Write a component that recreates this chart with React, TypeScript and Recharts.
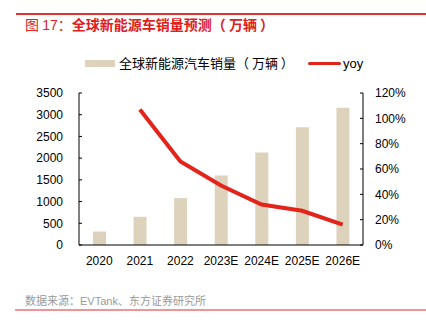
import { ComposedChart, Bar, Line, XAxis, YAxis } from "recharts"

const years = ["2020", "2021", "2022", "2023E", "2024E", "2025E", "2026E"]
const sales = [310, 650, 1080, 1600, 2130, 2710, 3160]
const yoy = [null, 107, 66, 47, 32, 27, 16]
const salesTicks = [0, 500, 1000, 1500, 2000, 2500, 3000, 3500]
const yoyTicks = [0, 20, 40, 60, 80, 100, 120]
const edgeTicks = [0, 1, 2, 3, 4, 5, 6, 7]

const data = years.map((year, i) => ({ year, sales: sales[i], yoy: yoy[i] }))

const BEIGE = "#DDD3BC"
const RED = "#E3241B"
const LATIN = "'Liberation Sans', Arial, sans-serif"
const CJK = "'Noto Sans CJK SC', sans-serif"

const axisTick = { fontSize: 12, fill: "#000", fontFamily: LATIN }
const axisLine = { stroke: "#000" }

function pct(v: number | string): string {
  return v + "%"
}

const cjkText = { whiteSpace: "pre", fontFamily: CJK, lineHeight: 1.4 } as const
const latin = { fontFamily: LATIN }

export default function App() {
  return (
    <div style={{ position: "relative", width: 426, height: 325, background: "#fff" }}>
      <style>{"body{margin:0}"}</style>
      <div style={{ position: "absolute", left: 16, right: 0, top: 13, height: 1.5, background: "#E5322D" }} />
      <div
        style={{
          ...cjkText,
          position: "absolute",
          left: 25,
          top: 15,
          fontSize: 14,
          fontWeight: "bold",
          color: "#E0201B",
        }}
      >
        <span style={{ fontWeight: "normal" }}>
          图 <span style={latin}>17</span>：
        </span>
        {"全球新能源车销量预测（ 万辆 ）"}
      </div>
      <div style={{ position: "absolute", left: 85, top: 60, width: 30, height: 7, background: BEIGE }} />
      <div style={{ ...cjkText, position: "absolute", left: 119, top: 54, fontSize: 13, color: "#000" }}>
        {"全球新能源汽车销量（ 万辆 ）"}
      </div>
      <div style={{ position: "absolute", left: 308, top: 62, width: 33, height: 3, background: RED, borderRadius: 2 }} />
      <div style={{ position: "absolute", left: 343, top: 56, fontSize: 13, color: "#000", fontFamily: LATIN }}>yoy</div>
      <div style={{ position: "absolute", left: 0, top: 0 }}>
        <ComposedChart width={426} height={325} data={data} margin={{ top: 93, right: 0, bottom: 0, left: 0 }}>
          <XAxis
            xAxisId="edge"
            type="number"
            domain={[0, 7]}
            ticks={edgeTicks}
            tick={false}
            axisLine={false}
            tickLine={axisLine}
            tickSize={4}
            height={0}
          />
          <XAxis
            xAxisId="cat"
            dataKey="year"
            tick={axisTick}
            axisLine={axisLine}
            tickLine={false}
            tickSize={0}
            tickMargin={11}
            height={80}
            interval={0}
          />
          <YAxis
            yAxisId="left"
            domain={[0, 3500]}
            ticks={salesTicks}
            tick={axisTick}
            axisLine={axisLine}
            tickLine={axisLine}
            tickSize={-3}
            tickMargin={19}
            width={79}
            interval={0}
          />
          <YAxis
            yAxisId="right"
            orientation="right"
            domain={[0, 120]}
            ticks={yoyTicks}
            tickFormatter={pct}
            tick={axisTick}
            axisLine={axisLine}
            tickLine={axisLine}
            tickSize={-3}
            tickMargin={15}
            width={63}
            interval={0}
          />
          <Bar xAxisId="cat" yAxisId="left" dataKey="sales" fill={BEIGE} barSize={13} isAnimationActive={false} />
          <Line
            xAxisId="cat"
            yAxisId="right"
            dataKey="yoy"
            stroke={RED}
            strokeWidth={4}
            dot={false}
            type="linear"
            isAnimationActive={false}
          />
        </ComposedChart>
      </div>
      <div style={{ ...cjkText, position: "absolute", left: 25, top: 293, fontSize: 11, color: "#9A9A9A" }}>
        数据来源：<span style={latin}>EVTank</span>、东方证券研究所
      </div>
      <div style={{ position: "absolute", left: 15, right: 0, top: 309, height: 1.5, background: "#F09595" }} />
    </div>
  )
}
